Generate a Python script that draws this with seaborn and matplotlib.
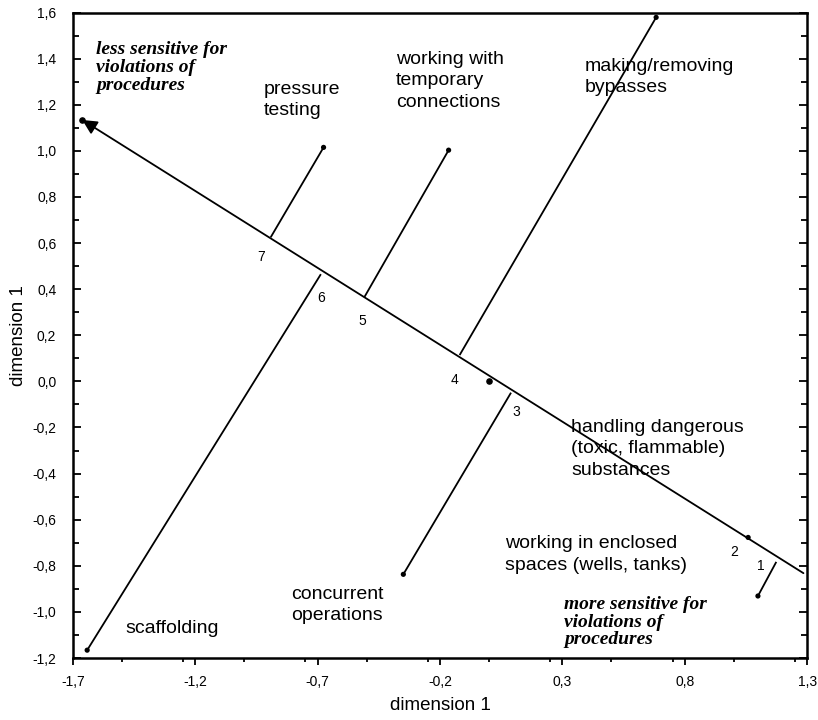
import numpy as np
import pandas as pd
import seaborn as sns
import matplotlib.pyplot as plt
from matplotlib.ticker import FuncFormatter, MultipleLocator

# items (point coordinates in the 2-d solution)
item_no = [1, 2, 3, 4, 5, 6, 7]
item_x = [1.099, 1.059, -0.350, 0.683, -0.165, -1.642, -0.676]
item_y = [-0.931, -0.677, -0.837, 1.579, 1.003, -1.166, 1.015]
# projection of each item onto the sensitivity axis
proj_x = [1.174, np.nan, 0.090, -0.120, -0.510, -0.687, -0.892]
proj_y = [-0.783, np.nan, -0.049, 0.114, 0.364, 0.465, 0.625]
# rank number near the axis
rank_x = [1.111, 1.002, 0.113, -0.140, -0.516, -0.687, -0.933]
rank_y = [-0.800, -0.739, -0.132, 0.006, 0.263, 0.363, 0.538]

# sensitivity axis: from lower right end to arrow tip, plus centre dot
axis_x = [1.285, -1.662]
axis_y = [-0.832, 1.134]
centre_x = [0.002]
centre_y = [0.003]

item_names = ["working in enclosed\nspaces (wells, tanks)",
              "handling dangerous\n(toxic, flammable)\nsubstances",
              "concurrent\noperations",
              "making/removing\nbypasses",
              "working with\ntemporary\nconnections",
              "scaffolding",
              "pressure\ntesting"]
name_pos = [(0.064, -0.751), (0.337, -0.292), (-0.810, -0.971), (0.391, 1.321),
            (-0.379, 1.303), (-1.485, -1.070), (-0.920, 1.220)]

x_ticks = [-1.7, -1.2, -0.7, -0.2, 0.3, 0.8, 1.3]
y_ticks = [-1.2, -1.0, -0.8, -0.6, -0.4, -0.2, 0.0, 0.2, 0.4, 0.6, 0.8, 1.0, 1.2, 1.4, 1.6]

df = pd.DataFrame({"no": item_no, "x": item_x, "y": item_y,
                   "px": proj_x, "py": proj_y})

sns.set_style("white")
plt.rcParams['font.family'] = ['Liberation Sans', 'DejaVu Sans']
plt.rcParams['text.color'] = 'black'
plt.rcParams['axes.labelcolor'] = 'black'
plt.rcParams['xtick.color'] = 'black'
plt.rcParams['ytick.color'] = 'black'

fig = plt.figure(figsize=(8.18, 7.2), dpi=100)
ax = fig.add_axes([0.0892, 0.0861, 0.8975, 0.8965])

# projection lines
for _, r in df.dropna().iterrows():
    ax.plot([r.x, r.px], [r.y, r.py], color="black", lw=1.3, solid_capstyle="butt")

# main axis with arrow
ax.annotate("", xy=(axis_x[1], axis_y[1]), xytext=(axis_x[0], axis_y[0]),
            arrowprops=dict(arrowstyle="-|>", color="black", lw=1.3,
                            mutation_scale=22, shrinkA=0, shrinkB=0))

sns.scatterplot(data=df, x="x", y="y", color="black", s=14, edgecolor="none", ax=ax, zorder=5)
ax.scatter(centre_x + [axis_x[1]], centre_y + [axis_y[1]], color="black", s=14, zorder=5)

for n, rx, ry in zip(item_no, rank_x, rank_y):
    ax.text(rx, ry, str(n), fontsize=10, ha="center", va="center")

for name, (tx, ty) in zip(item_names, name_pos):
    ax.text(tx, ty, name, fontsize=14, ha="left", va="center", linespacing=1.35)

serif = dict(family="Liberation Serif", style="italic", weight="bold", fontsize=14,
             ha="left", va="center", linespacing=1.05)
ax.text(-1.604, 1.362, "less sensitive for\nviolations of\nprocedures", **serif)
ax.text(0.308, -1.044, "more sensitive for\nviolations of\nprocedures", **serif)

ax.set_xlim(-1.7, 1.3)
ax.set_ylim(-1.2, 1.6)
ax.set_xticks(x_ticks)
ax.set_yticks(y_ticks)
ax.xaxis.set_minor_locator(MultipleLocator(0.25))
ax.yaxis.set_minor_locator(MultipleLocator(0.1))
fmt = FuncFormatter(lambda v, p: f"{round(v, 1) + 0.0:.1f}".replace(".", ","))
ax.xaxis.set_major_formatter(fmt)
ax.yaxis.set_major_formatter(fmt)
ax.tick_params(axis="x", which="both", direction="out", bottom=True, top=False,
               labelsize=10, width=1.3, pad=7)
ax.tick_params(axis="x", which="major", length=5)
ax.tick_params(axis="x", which="minor", length=3)
ax.tick_params(axis="y", which="both", direction="in", left=True, right=True,
               labelsize=10, width=1.3, pad=12)
ax.tick_params(axis="y", which="major", length=6)
ax.tick_params(axis="y", which="minor", length=4)
for s in ax.spines.values():
    s.set_linewidth(1.8)
    s.set_color("black")

ax.set_xlabel("dimension 1", fontsize=13.5, labelpad=6)
ax.set_ylabel("dimension 1", fontsize=13.5, labelpad=4)

fig.savefig("out.png", dpi=100)
